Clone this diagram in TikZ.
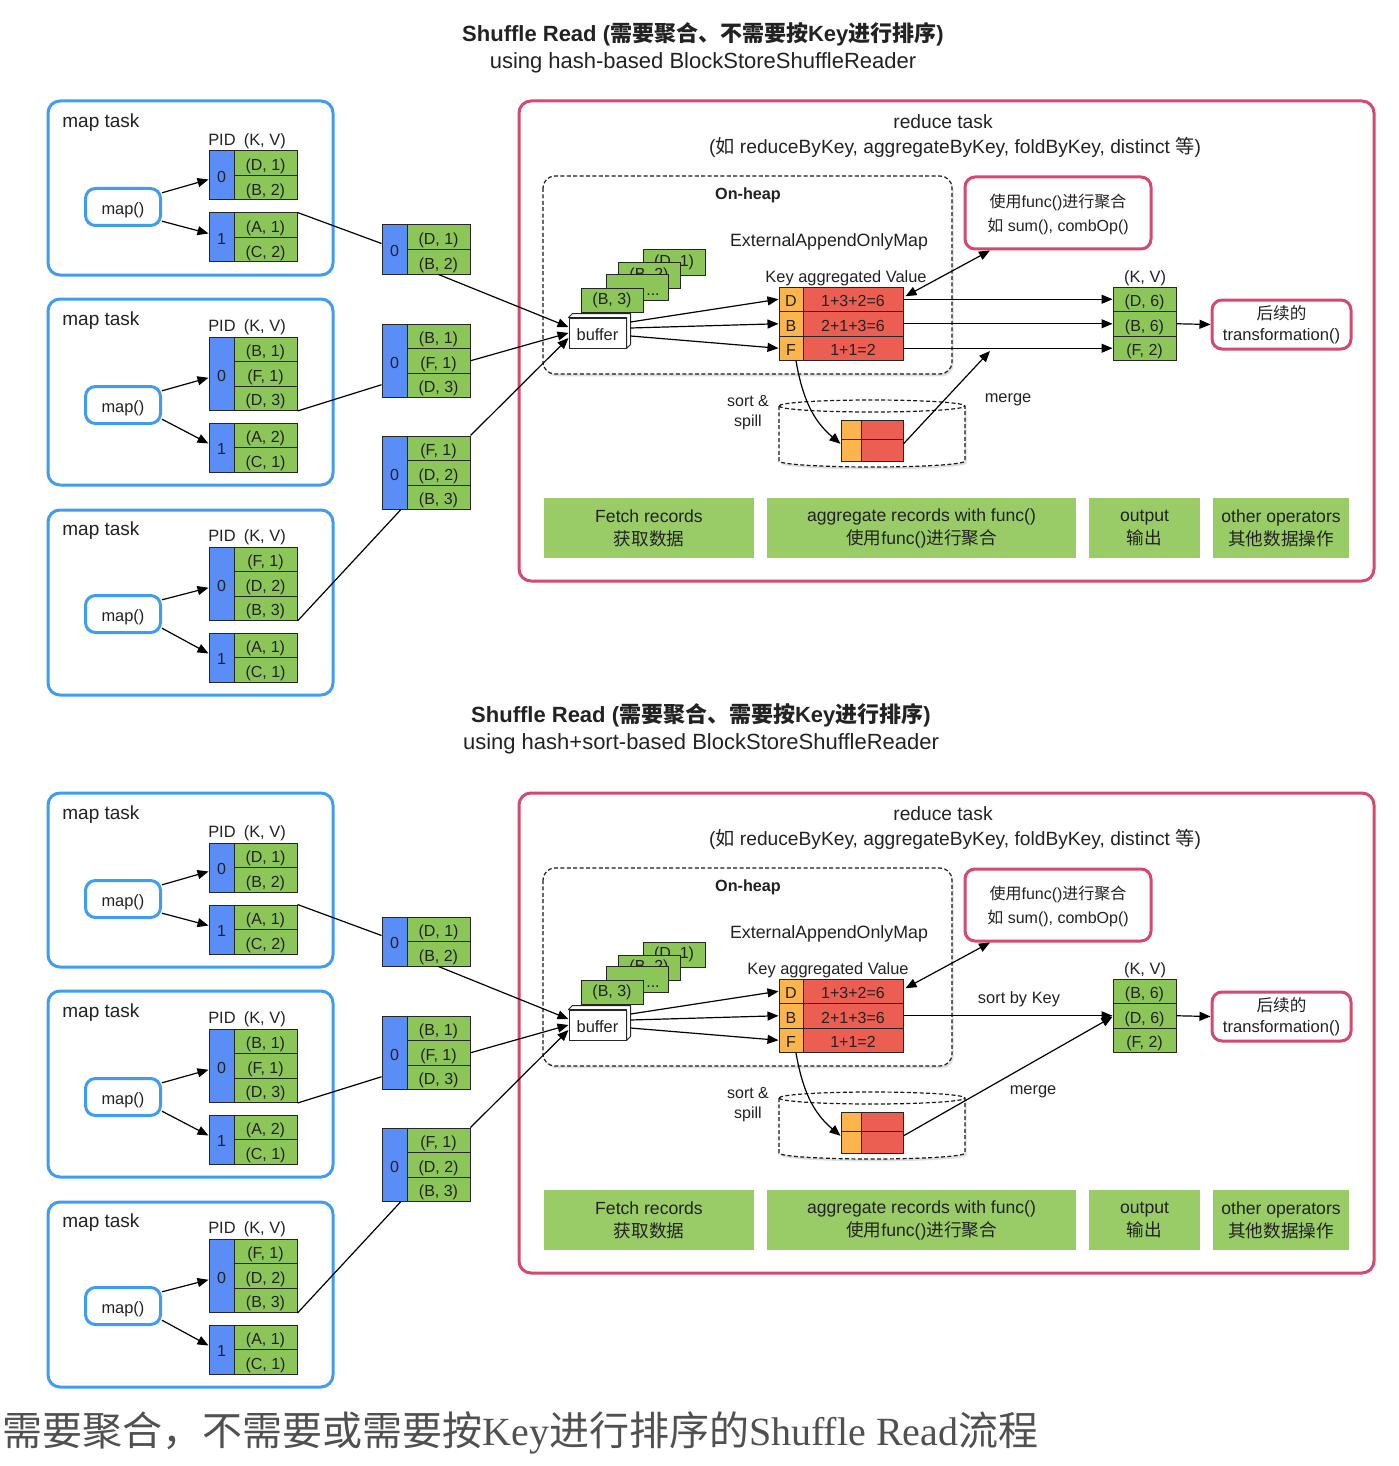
\documentclass[tikz,border=0pt]{standalone}
\usepackage{fontspec}
\setmainfont{Liberation Sans}
\newfontfamily\cjk{Noto Sans CJK SC}
\newfontfamily\capserif{Liberation Serif}
\usetikzlibrary{arrows.meta,shadows,calc}

\definecolor{mapblue}{HTML}{3F9CF0}
\definecolor{pidblue}{HTML}{5B8DF7}
\definecolor{cellgreen}{HTML}{8DC658}
\definecolor{stagegreen}{HTML}{99CC66}
\definecolor{keyorange}{HTML}{FBB54C}
\definecolor{valred}{HTML}{EC5E52}
\definecolor{redpink}{HTML}{D5486F}
\definecolor{ink}{HTML}{222222}
\definecolor{captiongray}{HTML}{505050}

\tikzset{
  base/.style={inner sep=0pt, text=ink},
  oneline/.style={text height=0.93em, text depth=0.2em},
  taskframe/.style={draw=mapblue, line width=1.5pt, rounded corners=6pt},
  redframe/.style={draw=redpink, line width=1.5pt, rounded corners=6pt},
  heapframe/.style={draw=black!90, line width=0.6pt, dash pattern=on 2pt off 1.2pt,
    rounded corners=6pt, fill=white,
    drop shadow={shadow xshift=0.8pt, shadow yshift=-1.2pt, opacity=0.25}},
  tasklabel/.style={base, oneline, anchor=west, font=\fontsize{9.5}{11}\selectfont},
  smalltxt/.style={base, oneline, font=\fontsize{8.2}{10}\selectfont},
  medtxt/.style={base, oneline, font=\fontsize{8.9}{11}\selectfont},
  midtxt/.style={base, oneline, font=\fontsize{9.6}{12.5}\selectfont},
  boldtxt/.style={base, oneline, font=\bfseries\fontsize{8.1}{10}\selectfont},
  titletxt/.style={base, align=center, font=\fontsize{11}{13.5}\selectfont},
  cellbase/.style={base, oneline, draw=black!85, line width=0.5pt, font=\fontsize{8}{9}\selectfont},
  kvcell/.style={cellbase, fill=cellgreen, minimum width=31.5pt, minimum height=12.25pt},
  reccell/.style={base, draw=black!85, line width=0.5pt, fill=cellgreen, minimum width=31pt,
    font=\fontsize{8}{9}\selectfont},
  pidcell/.style={cellbase, fill=pidblue, minimum width=12.5pt},
  keycell/.style={cellbase, fill=keyorange, minimum width=12pt, minimum height=12.25pt},
  valcell/.style={cellbase, fill=valred, minimum width=50pt, minimum height=12.25pt},
  mapfn/.style={base, oneline, draw=mapblue, line width=1.5pt, rounded corners=5pt, fill=white,
    minimum width=37.5pt, minimum height=18.5pt, font=\fontsize{8.2}{10}\selectfont},
  redbox/.style={base, draw=redpink, line width=1.5pt, rounded corners=5pt, fill=white,
    align=center},
  bufbox/.style={base, oneline, draw=black!85, line width=0.5pt, fill=white,
    minimum width=28.5pt, minimum height=15pt, font=\fontsize{8.2}{10}\selectfont},
  stage/.style={base, fill=stagegreen, minimum height=30pt, align=center,
    font=\fontsize{8.8}{11.5}\selectfont},
  arr/.style={-{Triangle[length=5.5pt,width=4.5pt]}, line width=0.6pt, draw=black},
  dblarr/.style={{Triangle[length=5.5pt,width=4.5pt]}-{Triangle[length=5.5pt,width=4.5pt]},
    line width=0.6pt, draw=black},
  conn/.style={line width=0.6pt, draw=black},
  diskline/.style={draw=black!90, line width=0.6pt, dash pattern=on 2pt off 1.2pt},
}

% partition block: name, left x, top y, partition id, rows key/value
\newcommand\kvblock[5]{%
  \foreach \kk/\vv [count=\i] in {#5}{%
    \node[kvcell] (#1-\i) at (#2+56.5, #3+12.25+24.5*\i-24.5) {(\kk, \vv)};
    \xdef\kvrows{\i}%
  }%
  \node[pidcell, minimum height=\kvrows*12.25pt] (#1-p) at (#2+12.5, #3+12.25*\kvrows) {#4};
}

% map side: three map tasks and the fetched blocks
\newcommand\mapside{%
  % map task 1
  \draw[taskframe] (48,101) rectangle (333,275);
  \node[tasklabel] (mt1) at (62,120) {map task};
  \node[smalltxt] (pid1) at (247,138) {PID\enspace(K, V)};
  \kvblock{a0}{209}{151}{0}{D/1,B/2}
  \kvblock{a1}{209}{213}{1}{A/1,C/2}
  \node[mapfn] (ma) at (123,207) {map()};
  \draw[arr] (ma.20) -- ([yshift=-2pt]a0-p.west);
  \draw[arr] (ma.-20) -- ([yshift=2pt]a1-p.west);
  % map task 2
  \draw[taskframe] (48,299) rectangle (333,485);
  \node[tasklabel] (mt2) at (62,318) {map task};
  \node[smalltxt] (pid2) at (247,324) {PID\enspace(K, V)};
  \kvblock{b0}{209}{337}{0}{B/1,F/1,D/3}
  \kvblock{b1}{209}{423}{1}{A/2,C/1}
  \node[mapfn] (mb) at (123,405) {map()};
  \draw[arr] (mb.20) -- ([yshift=-2pt]b0-p.west);
  \draw[arr] (mb.-20) -- ([yshift=2pt]b1-p.west);
  % map task 3
  \draw[taskframe] (48,510) rectangle (333,695);
  \node[tasklabel] (mt3) at (62,528) {map task};
  \node[smalltxt] (pid3) at (247,534) {PID\enspace(K, V)};
  \kvblock{c0}{209}{547}{0}{F/1,D/2,B/3}
  \kvblock{c1}{209}{633}{1}{A/1,C/1}
  \node[mapfn] (mc) at (123,614) {map()};
  \draw[arr] (mc.20) -- ([yshift=-2pt]c0-p.west);
  \draw[arr] (mc.-20) -- ([yshift=2pt]c1-p.west);
  % fetched partitions
  \kvblock{fa}{382}{225}{0}{D/1,B/2}
  \kvblock{fb}{382}{324}{0}{B/1,F/1,D/3}
  \kvblock{fc}{382}{436}{0}{F/1,D/2,B/3}
  \draw[conn] (a1-1.north east) -- ([yshift=3pt]fa-p.west);
  \draw[conn] (b0-3.south east) -- ([yshift=-12pt]fb-p.west);
  \draw[conn] (c0-3.south east) -- ([xshift=3pt]fc-p.south);
}

% reduce side: #1 x of the table caption, #2 rows of the output column
\newcommand\reduceside[2]{%
  \draw[redframe] (519,101) rectangle (1374,581);
  \node[midtxt] (rtitle) at (943,121) {reduce task};
  \node[midtxt] (rsub) at (955,146)
    {({\cjk 如} reduceByKey, aggregateByKey, foldByKey, distinct {\cjk 等})};
  \draw[heapframe] (543,176) rectangle (952,374);
  \node[boldtxt] (onheap) at (748,192) {On-heap};
  \node[medtxt] (eaom) at (829,239) {ExternalAppendOnlyMap};
  \node[smalltxt] (kavl) at (#1,275) {Key aggregated Value};
  % incoming records, back to front
  \node[reccell, minimum height=12.5pt] (rec4) at (674,262.5) {(D, 1)};
  \node[reccell, minimum height=12.5pt] (rec3) at (649,275.5) {(B, 2)};
  \node[reccell, minimum height=13pt] (rec2) at (637,287) {};
  \node[base, font=\fontsize{8}{9}\selectfont] (recdots) at (653,295) {...};
  \node[reccell, minimum height=12pt] (rec1) at (612,300) {(B, 3)};
  % buffer
  \node[bufbox] (buf) at (597.5,333) {buffer};
  \draw[draw=black!85, line width=0.5pt, fill=white, line join=round]
    (buf.north west) -- ++(4,-4) -- ($(buf.north east)+(4,-4)$)
    -- ($(buf.south east)+(4,-4)$) -- (buf.south east) -- (buf.north east) -- cycle;
  % aggregation table
  \node[keycell] (kD) at (791,299.25) {D};
  \node[valcell] (vD) at (853,299.25) {1+3+2=6};
  \node[keycell] (kB) at (791,323.75) {B};
  \node[valcell] (vB) at (853,323.75) {2+1+3=6};
  \node[keycell] (kF) at (791,348.25) {F};
  \node[valcell] (vF) at (853,348.25) {1+1=2};
  \draw[arr] ([xshift=2pt,yshift=5.5pt]buf.east) -- (kD.west);
  \draw[arr] ([xshift=2pt,yshift=2.5pt]buf.east) -- (kB.west);
  \draw[arr] ([xshift=2pt,yshift=-1.5pt]buf.east) -- (kF.west);
  % incoming fetch arrows
  \draw[arr] (fa-2.south) -- ([yshift=3pt]buf.west);
  \draw[arr] (fb-2.east) -- (buf.west);
  \draw[arr] (fc-1.north east) -- ([yshift=-2.5pt]buf.west);
  % aggregation function
  \node[redbox, minimum width=93pt, minimum height=36pt, font=\fontsize{8}{12}\selectfont]
    (fn) at (1058,213) {\strut{\cjk 使用}func(){\cjk 进行聚合}\\{\cjk 如} sum(), combOp()};
  \draw[dblarr] ([xshift=1pt,yshift=1.5pt]vD.east) -- ([xshift=-34pt]fn.south);
  % output records
  \node[smalltxt] (kvl) at (1145,275) {(K, V)};
  \foreach \kk/\vv [count=\i] in {#2}{%
    \node[kvcell] (out\i) at (1144.5, 274.75+24.5*\i) {(\kk, \vv)};
  }
  \node[redbox, minimum width=69.5pt, minimum height=24.5pt, font=\fontsize{8.3}{10.5}\selectfont]
    (nx) at (1281.5,324.5) {\strut{\cjk 后续的}\\transformation()};
  \draw[arr] (out2.east) -- (nx.west);
  % spill disk
  \draw[diskline, fill=white, drop shadow={shadow xshift=0.8pt, shadow yshift=-1.2pt, opacity=0.25}]
    (779,406) -- (779,461) arc[start angle=180, end angle=360, x radius=46.5pt, y radius=3pt]
    -- (965,406) arc[start angle=0, end angle=180, x radius=46.5pt, y radius=3pt] -- cycle;
  \draw[diskline] (779,406) arc[start angle=180, end angle=360, x radius=46.5pt, y radius=3pt];
  \node[keycell, minimum width=10pt, minimum height=9.25pt] (sk1) at (851,432) {};
  \node[valcell, minimum width=21pt, minimum height=9.25pt] (sv1) at (882,432) {};
  \node[keycell, minimum width=10pt, minimum height=9.5pt] (sk2) at (851,450.5) {};
  \node[valcell, minimum width=21pt, minimum height=9.5pt] (sv2) at (882,450.5) {};
  \node[base, align=center, font=\fontsize{8}{10}\selectfont] (spl) at (748,413) {sort \&\\spill};
  \draw[arr] ([xshift=2.5pt]kF.south) to[out=-80, in=140] (sk1.south west);
  % processing stages
  \node[stage, minimum width=105pt] (s1) at (649,528) {Fetch records\\{\cjk 获取数据}};
  \node[stage, minimum width=154.5pt] (s2) at (921.5,528) {aggregate records with func()\\{\cjk 使用}func(){\cjk 进行聚合}};
  \node[stage, minimum width=55.5pt] (s3) at (1144.5,528) {output\\{\cjk 输出}};
  \node[stage, minimum width=68pt] (s4) at (1281,528) {other operators\\{\cjk 其他数据操作}};
}

\begin{document}
\begin{tikzpicture}[x=0.5pt, y=-0.5pt]
  \useasboundingbox (0,0) rectangle (1398,1466);

  % hash-based reader
  \begin{scope}[name prefix=T-]
    \node[titletxt] (title) at (703,47.5)
      {{\bfseries Shuffle Read ({\cjk 需要聚合、不需要按}Key{\cjk 进行排序})}\\using hash-based BlockStoreShuffleReader};
    \mapside
    \reduceside{846}{D/6,B/6,F/2}
    \draw[arr] (vD.east) -- (out1.west);
    \draw[arr] (vB.east) -- (out2.west);
    \draw[arr] (vF.east) -- (out3.west);
    \coordinate (mergeend) at (990,351);
    \draw[arr] (sv1.south east) -- (mergeend);
    \node[smalltxt] (mergel) at (1008,395) {merge};
  \end{scope}

  % hash+sort-based reader
  \begin{scope}[name prefix=B-, shift={(0,692)}]
    \node[titletxt] (title) at (701,36.5)
      {{\bfseries Shuffle Read ({\cjk 需要聚合、需要按}Key{\cjk 进行排序})}\\using hash+sort-based BlockStoreShuffleReader};
    \mapside
    \reduceside{828}{B/6,D/6,F/2}
    \draw[arr] (vB.east) -- (out2.west);
    \node[smalltxt] (sortl) at (1019,304) {sort by Key};
    \draw[arr] (sv1.south east) -- ([yshift=-0.5pt]out2.west);
    \node[smalltxt] (mergel) at (1033,395) {merge};
  \end{scope}

  \node[anchor=west, inner sep=0pt, text=captiongray, font=\fontsize{20}{22}\selectfont] (caption) at (2,1433)
    {{\cjk 需要聚合，不需要或需要按}{\capserif Key}{\cjk 进行排序的}{\capserif Shuffle Read}{\cjk 流程}};
\end{tikzpicture}
\end{document}
